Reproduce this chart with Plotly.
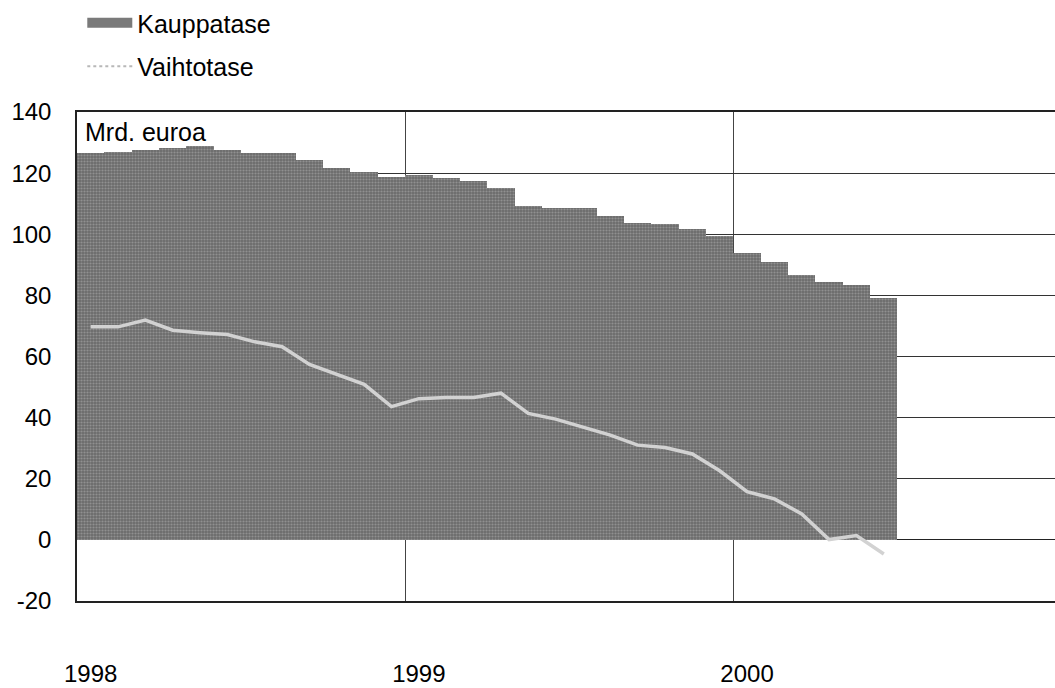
import plotly.graph_objects as go

# ---- data (monthly, Jan 1998 - Jun 2000), Mrd. euroa ----
months = [f"{y}-{m:02d}" for y in (1998, 1999, 2000) for m in range(1, 13)][:30]
kauppatase = [126.7, 127.0, 127.6, 128.1, 129.0, 127.6, 126.5, 126.5, 124.3, 121.6, 120.5, 118.7,
              119.4, 118.3, 117.3, 115.1, 109.3, 108.5, 108.5, 106.0, 103.7, 103.2, 101.7, 99.3,
              93.9, 90.9, 86.6, 84.4, 83.5, 79.2]
vaihtotase = [69.7, 69.7, 71.9, 68.6, 67.8, 67.2, 64.8, 63.2, 57.4, 54.2, 50.9, 43.6,
              46.2, 46.6, 46.6, 48.0, 41.4, 39.5, 36.8, 34.3, 31.0, 30.2, 28.1, 22.6,
              15.8, 13.4, 8.5, 0.1, 1.4, -4.6]
year_labels = ["1998", "1999", "2000"]
year_pos = [0, 12, 24]
year_bounds = [11.5, 23.5]
y_ticks = [-20, 0, 20, 40, 60, 80, 100, 120, 140]
y_ticktext = ["-20", "0", "20", "40", "60", "80", "100", "120", "140"]

x = list(range(len(months)))

FONT = "Liberation Sans, Arial, sans-serif"
FILL = "#6c6c6c"
LINE = "#d2d2d2"

fig = go.Figure()
fig.add_trace(go.Bar(
    x=x, y=kauppatase, name="Kauppatase", showlegend=False,
    marker=dict(color=FILL, line=dict(width=0),
                pattern=dict(shape=".", fgcolor="#b4b4b4", size=3, solidity=0.4,
                             fillmode="overlay")),
))
fig.add_trace(go.Scatter(
    x=x, y=vaihtotase, name="Vaihtotase", mode="lines", showlegend=False,
    line=dict(color=LINE, width=3.5),
))
# legend entries
fig.add_trace(go.Scatter(x=[None], y=[None], mode="lines", name="Kauppatase",
                         legendgroup="a", line=dict(color="#7a7a7a", width=18)))
fig.add_trace(go.Scatter(x=[None], y=[None], mode="lines", name="Vaihtotase",
                         legendgroup="b", line=dict(color="#b8b8b8", width=2, dash="dot")))

fig.update_layout(
    width=1055, height=688,
    margin=dict(l=77, r=0, t=112, b=87, autoexpand=False),
    paper_bgcolor="white", plot_bgcolor="white",
    bargap=0,
    font=dict(family=FONT, size=24, color="black"),
    showlegend=True,
    legend=dict(xref="container", yref="container", x=0.078, y=1.0,
                xanchor="left", yanchor="top",
                font=dict(size=25), itemwidth=45, tracegroupgap=8,
                traceorder="grouped", bgcolor="rgba(0,0,0,0)"),
    annotations=[dict(text="Mrd. euroa", xref="paper", yref="paper", x=0.006, y=1.0,
                      xanchor="left", yanchor="top", showarrow=False,
                      font=dict(size=25, family=FONT), yshift=-4)],
)
fig.update_xaxes(
    range=[-0.5, 35.26], tickmode="array", tickvals=year_pos, ticktext=year_labels,
    showgrid=False, ticks="", ticklabelstandoff=50, automargin=False,
    showline=True, mirror=True, linecolor="#222", linewidth=1.5,
    minor=dict(tickmode="array", tickvals=year_bounds, showgrid=True,
               gridcolor="#444", gridwidth=1, ticks=""),
    zeroline=False,
)
fig.update_yaxes(
    range=[-20, 140], tickmode="array", tickvals=y_ticks, ticktext=y_ticktext,
    showgrid=True, gridcolor="#333", gridwidth=1,
    zeroline=True, zerolinecolor="#222", zerolinewidth=1,
    showline=True, mirror=False, linecolor="#222", linewidth=1.5,
    ticks="", ticklabelstandoff=19, automargin=False,
)

fig.write_html("out.html")
